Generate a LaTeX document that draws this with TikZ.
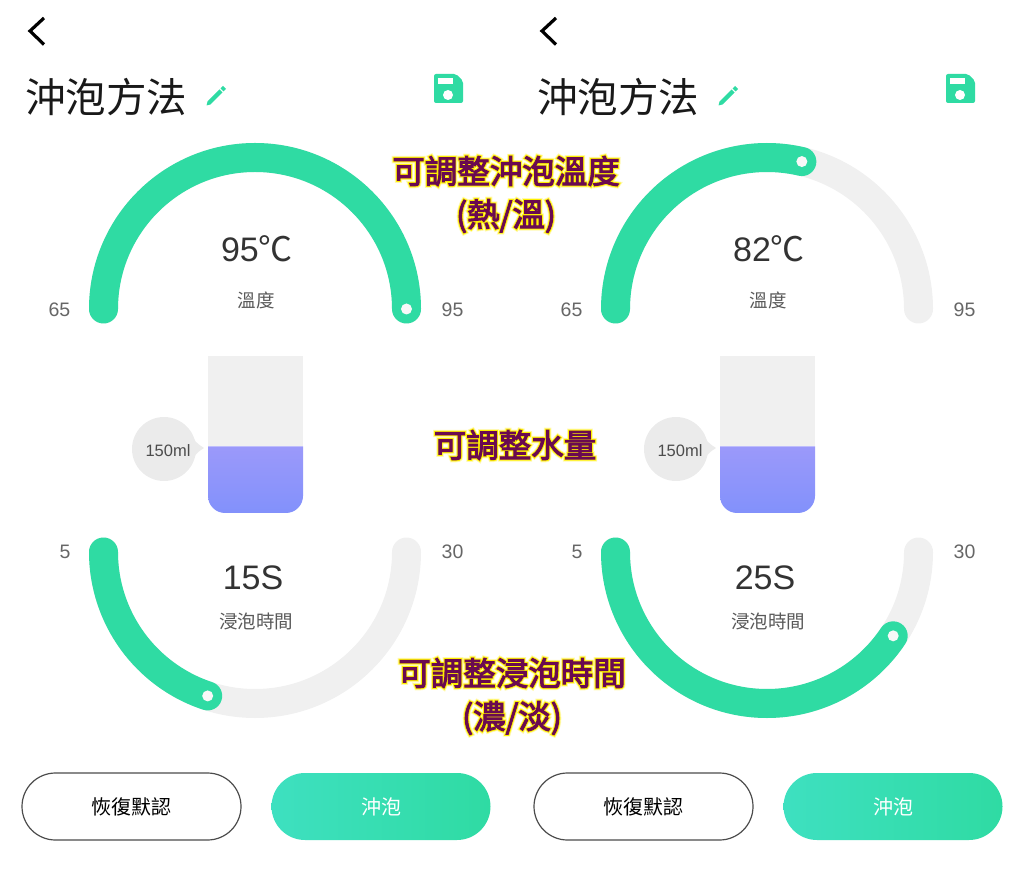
\documentclass[tikz,border=0pt]{standalone}
\usepackage{fontspec}
\usetikzlibrary{shapes.misc}
\setmainfont{Liberation Sans}
\newfontfamily\cjk{Noto Sans CJK TC}
\newfontfamily\notefont[FakeBold=3]{Noto Sans CJK TC}
\newfontfamily\noteglow[FakeBold=9]{Noto Sans CJK TC}
\newfontfamily\notehalo[FakeBold=15]{Noto Sans CJK TC}
\definecolor{brewgreen}{HTML}{2FDBA3}
\definecolor{gaugegray}{HTML}{F0F0F0}
\definecolor{notepurple}{HTML}{6A0A50}
\newcommand{\fsize}[1]{\fontsize{#1}{#1}\selectfont}
\newcommand{\glowtext}[1]{\rlap{\notehalo\color[HTML]{FFF9B0}#1}\rlap{\noteglow\color[HTML]{FFF000}#1}{\notefont #1}}
\tikzset{
  x=1pt,y=1pt,
  gaugeback/.style={line width=29pt,line cap=round,draw=gaugegray},
  gaugefill/.style={line width=29pt,line cap=round,draw=brewgreen},
  knobdot/.style={circle,fill=gaugegray!50,inner sep=0pt,minimum size=11pt},
  endlabel/.style={text=black!60,font=\fsize{19.5}},
  bigvalue/.style={text=black!80,font=\fsize{34}},
  smalllabel/.style={text=black!65,font=\cjk\fsize{18.5}},
  pillbtn/.style={rounded rectangle,minimum width=219pt,minimum height=67pt,inner sep=0pt,font=\cjk\fsize{20}},
  notetext/.style={text=notepurple,font=\fsize{32.5}}
}
% one whole phone screen
\newcommand{\brewpanel}[6]{
  \begin{scope}[xshift=#2,name prefix=#1-]
    %header
    \draw[line width=3.2pt] (44,855) -- (30,842) -- (44,828.5);
    \node[font=\cjk\fsize{40.5},text=black!90] (title) at (106,776) {沖泡方法};
    \fill[brewgreen] (206.5,767.5) -- (207.5,771.5) -- (219.5,783.5) -- (222.5,780.5) -- (210.5,768.5) -- cycle;
    \fill[brewgreen] (220.5,784.5) -- (223,787) -- (226,784) -- (223.5,781.5) -- cycle;
    \fill[brewgreen,rounded corners=2pt] (434,770) -- (463,770) -- (463,792) -- (456,799) -- (434,799) -- cycle;
    \fill[white] (437.5,789) rectangle (453,795);
    \fill[white] (448,778) circle (5);
    %temperature gauge
    \coordinate (tempc) at (255,564);
    \draw[gaugeback] (tempc) ++(180:151.5) arc[start angle=180,end angle=0,radius=151.5];
    \draw[gaugefill] (tempc) ++(180:151.5) arc[start angle=180,end angle=#4,radius=151.5];
    \node[knobdot] (tempknob) at ([shift={(#4:151.5)}]tempc) {};
    \node[endlabel] (tempmin) at (59.5,563) {65};
    \node[endlabel] (tempmax) at (452.5,563) {95};
    \node[bigvalue] (tempval) at (257,624) {#3{\cjk ℃}};
    \node[smalllabel] (templabl) at (256,573) {溫度};
    %water cup
    \fill[gaugegray] (208,427) rectangle (303,517);
    \shade[top color={rgb,255:red,155;green,153;blue,250},bottom color={rgb,255:red,130;green,145;blue,251}] (208,426.5) -- (303,426.5) -- (303,377) arc[start angle=0,end angle=-90,radius=17] -- (225,360) arc[start angle=-90,end angle=-180,radius=17] -- cycle;
    \fill[black!8] (164,424) circle (32);
    \fill[black!8] (191,441) .. controls (195,431) .. (204,425) .. controls (195,419) .. (191,407) -- cycle;
    \node[text=black!70,font=\fsize{16.5}] (water) at (168,422) {150ml};
    %steep gauge
    \coordinate (timec) at (255,321);
    \draw[gaugeback] (timec) ++(180:151.5) arc[start angle=180,end angle=360,radius=151.5];
    \draw[gaugefill] (timec) ++(180:151.5) arc[start angle=180,end angle=#6,radius=151.5];
    \node[knobdot] (timeknob) at ([shift={(#6:151.5)}]timec) {};
    \node[endlabel] (timemin) at (65,321) {5};
    \node[endlabel] (timemax) at (452.5,321) {30};
    \node[bigvalue] (timeval) at (253,295) {#5};
    \node[smalllabel] (timelabl) at (256,252) {浸泡時間};
    %buttons
    \node[pillbtn,draw=black!70,line width=1.2pt] (reset) at (131.5,66.5) {恢復默認};
    \node[pillbtn,text=white,left color={rgb,255:red,62;green,224;blue,192},right color=brewgreen] (brew) at (381,66.5) {沖泡};
  \end{scope}
}
\begin{document}
\begin{tikzpicture}
  \useasboundingbox (0,0) rectangle (1024,873);
  \brewpanel{lft}{0}{95}{0}{15S}{251.8}
  \brewpanel{rgt}{512}{82}{76.7}{25S}{326.4}
  %notes
  \node[notetext] (note1) at (506,702) {\glowtext{可調整沖泡溫度}};
  \node[notetext] (note2) at (506,657) {\glowtext{(熱/溫)}};
  \node[notetext] (note3) at (515,428) {\glowtext{可調整水量}};
  \node[notetext] (note4) at (512,200) {\glowtext{可調整浸泡時間}};
  \node[notetext] (note5) at (512,155) {\glowtext{(濃/淡)}};
\end{tikzpicture}
\end{document}
